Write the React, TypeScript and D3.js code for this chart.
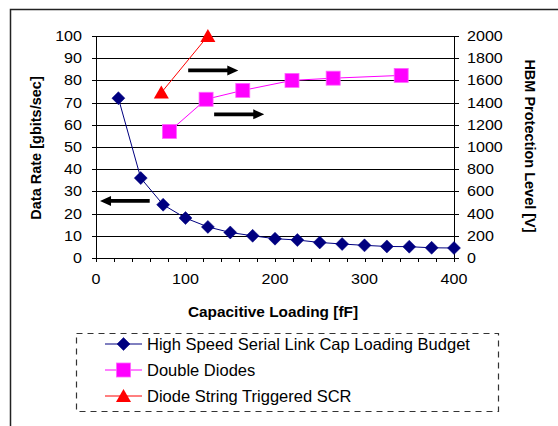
import React from "react";
import * as d3 from "d3";

const capLoading = [25, 50, 75, 100, 125, 150, 175, 200, 225, 250, 275, 300, 325, 350, 375, 400];
const linkBudget = [72, 36, 24, 18, 14, 11.5, 10, 8.7, 8.1, 7, 6.3, 5.7, 5.2, 5.1, 4.6, 4.5];
const diodeX = [82, 123, 164, 219, 265, 341];
const diodeHBM = [1140, 1430, 1510, 1600, 1620, 1645];
const scrX = [73, 125];
const scrHBM = [1490, 2000];
const leftTicks = [0, 10, 20, 30, 40, 50, 60, 70, 80, 90, 100];
const rightTicks = [0, 200, 400, 600, 800, 1000, 1200, 1400, 1600, 1800, 2000];
const xLabelTicks = [0, 100, 200, 300, 400];
const xMinorTicks = d3.range(0, 401, 20);
const arrows = [
  { x1: 103, x2: 159, y: 84.5 },
  { x1: 132, x2: 188, y: 64.7 },
  { x1: 60, x2: 4.5, y: 25.7 },
];
const legendItems = [
  { label: "High Speed Serial Link Cap Loading Budget", color: "#000080", marker: "diamond" },
  { label: "Double Diodes", color: "#FF00FF", marker: "square" },
  { label: "Diode String Triggered SCR", color: "#FF0000", marker: "triangle" },
];

const FONT = "'Liberation Sans', Arial, sans-serif";

function Marker({ type, x, y, color }: { type: string; x: number; y: number; color: string }) {
  if (type === "diamond") {
    const r = 6.5;
    return <path d={`M${x},${y - r}L${x + r},${y}L${x},${y + r}L${x - r},${y}Z`} fill={color} stroke={color} strokeWidth={0.5} />;
  }
  if (type === "square") {
    const r = 7;
    return <rect x={x - r} y={y - r} width={2 * r} height={2 * r} fill={color} stroke="#FF66FF" strokeWidth={0.8} />;
  }
  const w = 7.5;
  return <path d={`M${x},${y - 7}L${x + w},${y + 6}L${x - w},${y + 6}Z`} fill={color} />;
}

function Arrow({ x1, x2, y }: { x1: number; x2: number; y: number }) {
  const dir = x2 > x1 ? 1 : -1;
  const headLen = 11;
  const headH = 5;
  const sh = 1.9;
  const xb = x2 - dir * headLen;
  const d = `M${x1},${y - sh}L${xb},${y - sh}L${xb},${y - headH}L${x2},${y}L${xb},${y + headH}L${xb},${y + sh}L${x1},${y + sh}Z`;
  return <path d={d} fill="#000" />;
}

export default function App() {
  const W = 558, H = 426;
  const x = d3.scaleLinear().domain([0, 400]).range([96, 454]);
  const yL = d3.scaleLinear().domain([0, 100]).range([258, 36]);
  const yR = d3.scaleLinear().domain([0, 2000]).range([258, 36]);
  const line = d3.line<[number, number]>().x((d) => d[0]).y((d) => d[1]);
  const blue = capLoading.map((c, i) => [x(c), yL(linkBudget[i])] as [number, number]);
  const pink = diodeX.map((c, i) => [x(c), yR(diodeHBM[i])] as [number, number]);
  const red = scrX.map((c, i) => [x(c), yR(scrHBM[i])] as [number, number]);
  const sx = 1.15;

  return (
    <svg width={W} height={H} style={{ position: "absolute", left: 0, top: 0 }} fontFamily={FONT}>
      <rect x={0} y={0} width={W} height={H} fill="#fff" />
      <path d={`M10.5,${H}L10.5,9.5L${W},9.5`} fill="none" stroke="#222" strokeWidth={1.5} />

      {/* gridlines */}
      {leftTicks.map((t) => (
        <line key={"g" + t} x1={x(0)} x2={x(400)} y1={Math.round(yL(t)) + 0.5} y2={Math.round(yL(t)) + 0.5} stroke="#000" strokeWidth={1} />
      ))}
      {/* axes */}
      <line x1={x(0) + 0.5} x2={x(0) + 0.5} y1={yL(100)} y2={yL(0)} stroke="#000" />
      <line x1={x(400) + 0.5} x2={x(400) + 0.5} y1={yL(100)} y2={yL(0)} stroke="#000" />
      {leftTicks.map((t) => (
        <g key={"l" + t}>
          <line x1={x(0) - 4} x2={x(0)} y1={Math.round(yL(t)) + 0.5} y2={Math.round(yL(t)) + 0.5} stroke="#000" />
          <text transform={`translate(82,${yL(t) + 5}) scale(${sx},1)`} textAnchor="end" fontSize={14} fill="#000">{t}</text>
        </g>
      ))}
      {rightTicks.map((t) => (
        <g key={"r" + t}>
          <line x1={x(400)} x2={x(400) + 5} y1={Math.round(yR(t)) + 0.5} y2={Math.round(yR(t)) + 0.5} stroke="#000" />
          <text transform={`translate(467,${yR(t) + 5}) scale(${sx},1)`} textAnchor="start" fontSize={14} fill="#000">{t}</text>
        </g>
      ))}
      {xMinorTicks.map((t) => (
        <line key={"m" + t} x1={Math.round(x(t)) + 0.5} x2={Math.round(x(t)) + 0.5} y1={yL(0)} y2={yL(0) + 4} stroke="#000" />
      ))}
      {xLabelTicks.map((t) => (
        <text key={"x" + t} transform={`translate(${x(t)},284) scale(${sx},1)`} textAnchor="middle" fontSize={14} fill="#000">{t}</text>
      ))}

      {/* titles */}
      <text x={273} y={317} textAnchor="middle" fontSize={15.4} fontWeight="bold">Capacitive Loading [fF]</text>
      <text transform={`translate(41,148) rotate(-90)`} textAnchor="middle" fontSize={14.5} fontWeight="bold">Data Rate [gbits/sec]</text>
      <text transform={`translate(525,146) rotate(90)`} textAnchor="middle" fontSize={14.5} fontWeight="bold">HBM Protection Level [V]</text>

      {/* series */}
      <path d={line(blue) || ""} fill="none" stroke="#000080" strokeWidth={1} />
      <path d={line(pink) || ""} fill="none" stroke="#FF00FF" strokeWidth={1} />
      <path d={line(red) || ""} fill="none" stroke="#FF0000" strokeWidth={1} />
      {blue.map((p, i) => <Marker key={"b" + i} type="diamond" x={p[0]} y={p[1]} color="#000080" />)}
      {pink.map((p, i) => <Marker key={"p" + i} type="square" x={p[0]} y={p[1]} color="#FF00FF" />)}
      {red.map((p, i) => <Marker key={"t" + i} type="triangle" x={p[0]} y={p[1]} color="#FF0000" />)}

      {/* arrows */}
      {arrows.map((a, i) => <Arrow key={"a" + i} x1={x(a.x1)} x2={x(a.x2)} y={yL(a.y)} />)}

      {/* legend */}
      <rect x={76.5} y={333.5} width={422} height={78} fill="#fff" stroke="#333" strokeWidth={1.2} strokeDasharray="6,5" />
      {legendItems.map((it, i) => {
        const cy = 344 + i * 26;
        return (
          <g key={"lg" + i}>
            <line x1={105} x2={142} y1={cy} y2={cy} stroke={it.color} strokeWidth={1} />
            <Marker type={it.marker} x={123.5} y={cy} color={it.color} />
            <text x={147} y={cy + 6} fontSize={16.5} fill="#000">{it.label}</text>
          </g>
        );
      })}
    </svg>
  );
}
